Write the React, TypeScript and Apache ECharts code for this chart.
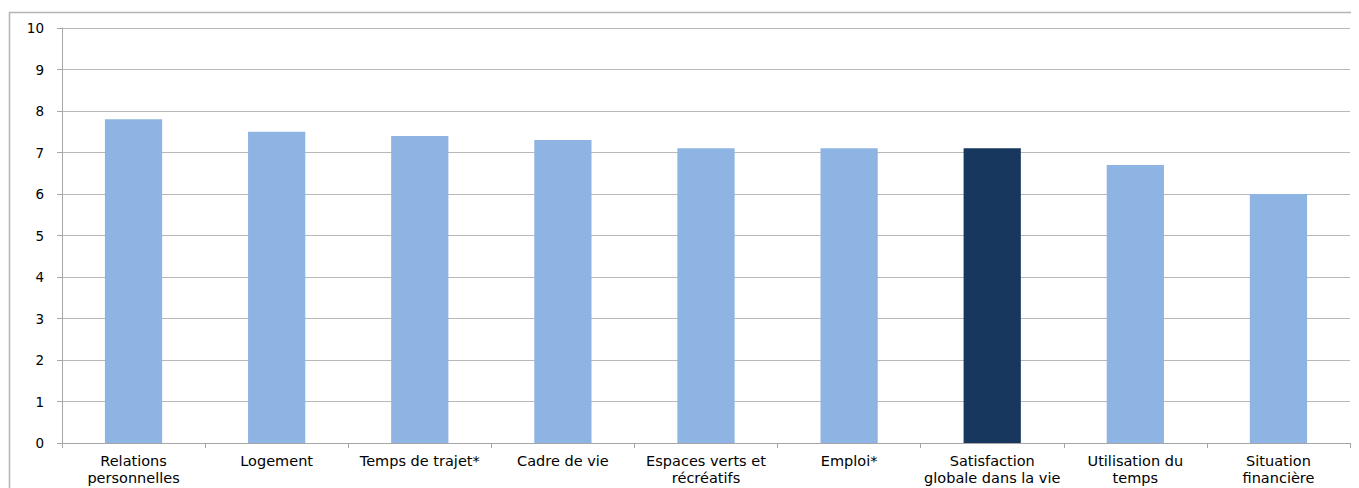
import React, { useEffect, useRef } from "react";
import * as echarts from "echarts";

const categories = [
  "Relations\npersonnelles",
  "Logement",
  "Temps de trajet*",
  "Cadre de vie",
  "Espaces verts et\nrécréatifs",
  "Emploi*",
  "Satisfaction\nglobale dans la vie",
  "Utilisation du\ntemps",
  "Situation\nfinancière",
];
const values = [7.8, 7.5, 7.4, 7.3, 7.1, 7.1, 7.1, 6.7, 6.0];
const highlightIndex = 6;
const lightColor = "#8EB4E3";
const darkColor = "#17375E";

export default function App() {
  const ref = useRef<HTMLDivElement>(null);
  useEffect(() => {
    if (!ref.current) return;
    const chart = echarts.init(ref.current, null, { renderer: "svg" });
    const font = "DejaVu Sans";
    chart.setOption({
      animation: false,
      textStyle: { fontFamily: font },
      graphic: [
        {
          type: "rect",
          shape: { x: 1.5, y: 4.5, width: 1400, height: 600 },
          style: { fill: "none", stroke: "#b4b4b4", lineWidth: 1.5 },
          silent: true,
        },
      ],
      grid: { left: 54, right: 9, top: 20, bottom: 45, containLabel: false },
      xAxis: {
        type: "category",
        data: categories,
        axisLine: { show: true, lineStyle: { color: "#a6a6a6", width: 1 } },
        axisTick: { show: true, alignWithLabel: false, length: 5, lineStyle: { color: "#a6a6a6" } },
        axisLabel: {
          color: "#000",
          fontSize: 14.5,
          fontFamily: font,
          lineHeight: 17,
          margin: 9,
          interval: 0,
        },
      },
      yAxis: {
        type: "value",
        min: 0,
        max: 10,
        interval: 1,
        axisLine: { show: true, lineStyle: { color: "#a6a6a6", width: 1 } },
        axisTick: { show: true, length: 5, lineStyle: { color: "#a6a6a6" } },
        axisLabel: { color: "#000", fontSize: 13.5, fontFamily: font, margin: 18 },
        splitLine: { show: true, lineStyle: { color: "#b8b8b8", width: 1 } },
      },
      series: [
        {
          type: "bar",
          data: values.map((v, i) => ({
            value: v,
            itemStyle: { color: i === highlightIndex ? darkColor : lightColor },
          })),
          barCategoryGap: "60%",
        },
      ],
    });
    return () => chart.dispose();
  }, []);
  return <div ref={ref} style={{ width: 1351, height: 480 }} />;
}
